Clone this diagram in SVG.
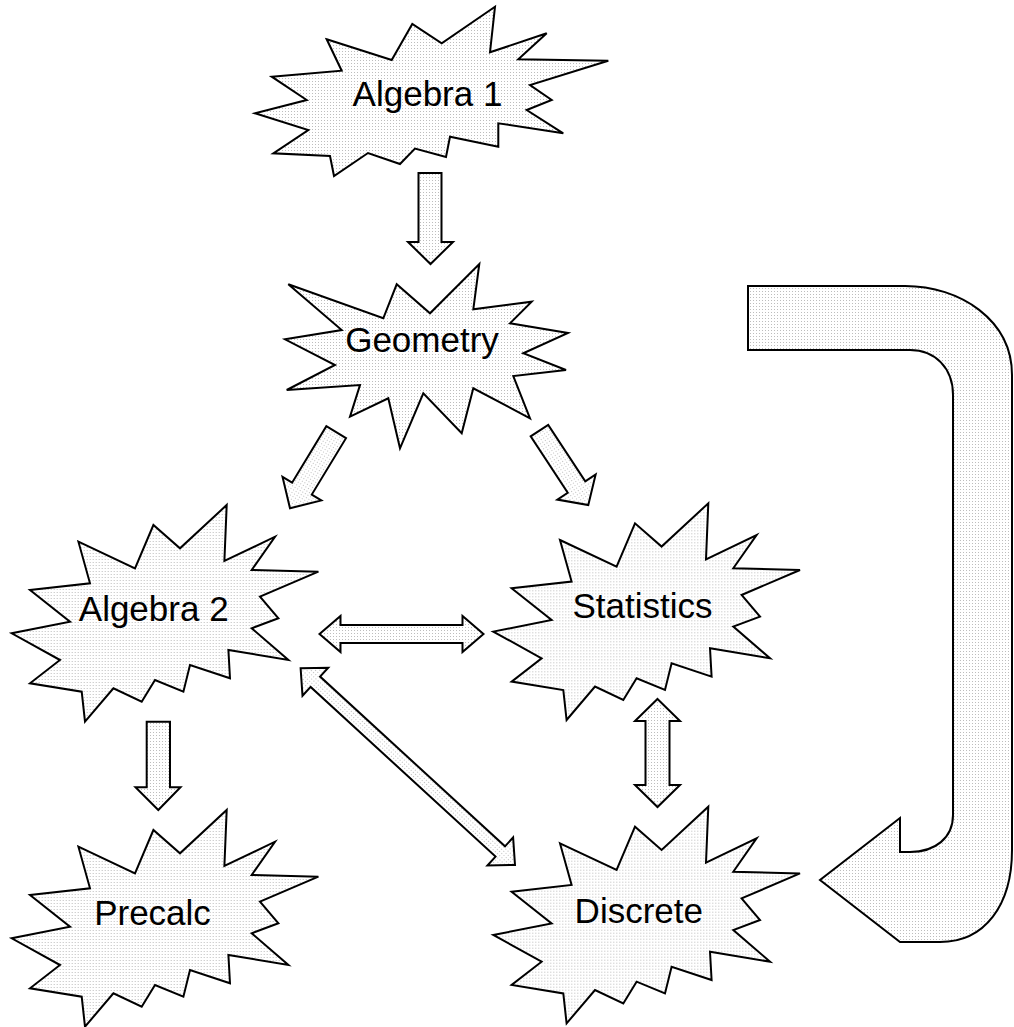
<svg xmlns="http://www.w3.org/2000/svg" xmlns:xlink="http://www.w3.org/1999/xlink" width="1014" height="1027" viewBox="0 0 1014 1027">
<style>
.shape{fill:url(#dots);stroke:#000;stroke-width:2;stroke-linejoin:miter}
.lbl{font-family:"Liberation Sans",Arial,sans-serif;font-size:35px;fill:#000;text-anchor:middle}
</style>
<defs>
<pattern id="dots" width="3" height="3" patternUnits="userSpaceOnUse"><rect width="3" height="3" fill="#fff"/><rect width="1" height="1" fill="#bdbdbd"/></pattern>
<path id="burst" d="M66.7,36.7 L123.3,63.3 L141.7,20 L168.3,43.3 L215,0 L212.7,56 L263.3,31.7 L240,65 L306.7,66.7 L248.3,91.7 L266.7,113.3 L240,123.3 L276.7,155 L216.7,145 L218.3,173.3 L178.3,160 L171.7,186.7 L143.3,175 L130,196.7 L101.7,183.3 L73.3,216.7 L70,186.7 L18.3,178.3 L48.3,155 L0,128.3 L58.3,116.7 L18.3,85 L78.3,78.3 Z"/>
</defs>
<rect width="1014" height="1027" fill="#fff"/>
<g id="connectors">
<polygon class="shape" points="418.5,173 441.5,173 441.5,242 453,242 430.5,264 408,242 418.5,242"/>
<polygon class="shape" transform="translate(290,508.3) rotate(121.25)" points="0,0 -23,-22.7 -23,-11.5 -89,-11.5 -89,11.5 -23,11.5 -23,22.7"/>
<polygon class="shape" transform="translate(588.3,505) rotate(56.7)" points="0,0 -21.5,-22.9 -21.5,-10.5 -89,-10.5 -89,10.5 -21.5,10.5 -21.5,22.9"/>
<polygon class="shape" points="319.5,634 340.5,616 340.5,625 462.5,625 462.5,616 483.5,634 462.5,652 462.5,643 340.5,643 340.5,652"/>
<polygon class="shape" transform="translate(515,865) rotate(42.55)" points="0,0 -20,-19 -20,-7 -271,-7 -271,-19 -291,0 -271,19 -271,7 -20,7 -20,19"/>
<polygon class="shape" points="657.5,699 680,721 669.5,721 669.5,785 680,785 657.5,807 635,785 645.5,785 645.5,721 635,721"/>
<polygon class="shape" points="146.7,721.7 170,721.7 170,787.3 180.5,787.3 158.3,810 135.5,787.3 146.7,787.3"/>
<path class="shape" d="M748,286 L905,286 C960,286 1012,320 1012,375 L1012,850 C1012,905 985,942 940,942 L900,942 L820,880 L900,818 L900,852 L910,852 C935,852 953,838 953,815 L953,395 C953,368 935,350 910,350 L748,350 Z"/>
</g>
<g id="algebra1">
<polygon class="shape" points="326.7,39.3 391.7,60 412.3,24 441.7,43.3 495,6.7 490,52.3 546.7,33.3 518.3,59.3 608.3,60.7 530,85 551.7,100 526.7,110 563.3,133.3 498.3,123.3 498.3,146.7 450,136.7 446,157 415,148.5 400,164 368,153 334,176 330,156 273.3,153.3 308.3,130 255,113.3 306.7,100 271.7,76.7 341.7,70.7"/>
<text class="lbl" x="427.5" y="106">Algebra 1</text>
</g>
<g id="geometry">
<polygon class="shape" points="288.3,284.3 383.3,318.3 396.7,284.3 430,313.3 479.3,264 473.3,309.3 531.7,301.7 510,323.3 568,333 523.3,353.3 566,370 513.3,376 530,418.3 473.3,388.3 461.7,433.3 423.3,393.3 400,448.3 388.3,398.3 350,416.7 360,385 286.7,390 335,365 285,339.3 341.7,330"/>
<text class="lbl" x="422" y="351.7">Geometry</text>
</g>
<g id="algebra2">
<use href="#burst" xlink:href="#burst" class="shape" x="11.7" y="505"/>
<text class="lbl" x="153.7" y="620.7">Algebra 2</text>
</g>
<g id="statistics">
<use href="#burst" xlink:href="#burst" class="shape" x="493.3" y="503.3"/>
<text class="lbl" x="642.5" y="617.7">Statistics</text>
</g>
<g id="precalc">
<use href="#burst" xlink:href="#burst" class="shape" x="11.7" y="810"/>
<text class="lbl" x="152.5" y="925">Precalc</text>
</g>
<g id="discrete">
<use href="#burst" xlink:href="#burst" class="shape" x="493.3" y="806.7"/>
<text class="lbl" x="638.8" y="922.7">Discrete</text>
</g>
</svg>
